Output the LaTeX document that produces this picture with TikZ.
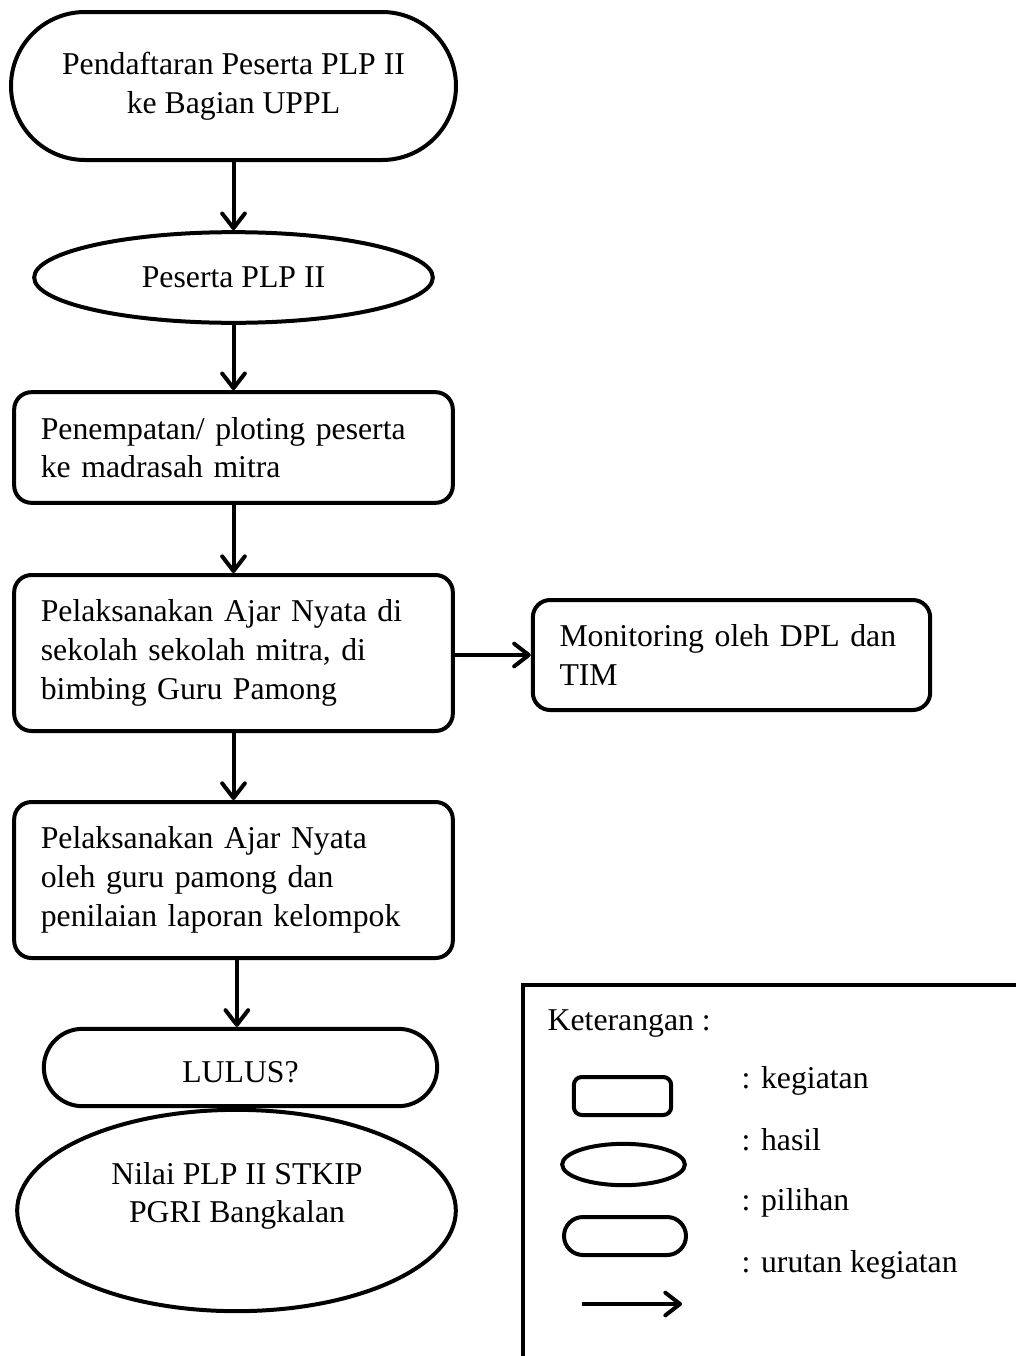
\documentclass[tikz,border=0pt]{standalone}
\usepackage{fontspec}
\setmainfont{Liberation Serif}
\usetikzlibrary{arrows.meta,shapes.geometric,shapes.misc}
\begin{document}
\begin{tikzpicture}[x=0.75pt,y=-0.75pt,
  txt/.style={font=\fontsize{23.8pt}{29pt}\selectfont},
  shp/.style={draw,line width=3pt,inner sep=0pt,txt},
  kbox/.style={shp,rectangle,rounded corners=13pt,inner xsep=20pt,align=left},
  stad/.style={shp,rounded rectangle,align=center},
  ell/.style={shp,ellipse,align=center},
  flow/.style={line width=3pt,-{Straight Barb[length=11pt,width=17pt,line cap=round,line join=round]}},
]
\useasboundingbox (0,0) rectangle (1015,1356);

% main column
\node[stad,minimum width=333.75pt,minimum height=111pt] (start) at (233.5,86)
  {Pendaftaran Peserta PLP II\\ke Bagian UPPL};
\node[ell,minimum width=299pt,minimum height=68pt] (peserta) at (233.5,277.5) {Peserta PLP II};
\node[kbox,minimum width=329pt,minimum height=83pt,text width=289pt] (tempat) at (233.5,447.5)
  {Penempatan/ ploting peserta\\ke madrasah mitra};
\node[kbox,minimum width=329pt,minimum height=117pt,text width=289pt] (laksana) at (233.5,653)
  {Pelaksanakan Ajar Nyata di\\sekolah sekolah mitra, di\\bimbing Guru Pamong};
\node[kbox,minimum width=295pt,minimum height=82.5pt,text width=258pt] (monitor) at (731.5,655)
  {Monitoring oleh DPL dan\\TIM};
\node[kbox,minimum width=329pt,minimum height=117pt,text width=289pt] (nilaiajar) at (233.5,880)
  {Pelaksanakan Ajar Nyata\\oleh guru pamong dan\\penilaian laporan kelompok};
\node[stad,minimum width=295pt,minimum height=58pt] (lulus) at (240.5,1067.5) {};
\node[txt] (lulustext) at (240.5,1072) {LULUS?};
\node[ell,minimum width=329pt,minimum height=151pt] (nilai) at (236.5,1210.5) {};
\node[txt,align=center] (nilaitext) at (237,1196) {Nilai PLP II STKIP\\PGRI Bangkalan};

% connectors
\draw[flow] (start.south) -- (start.south |- peserta.north);
\draw[flow] (peserta.south) -- (peserta.south |- tempat.north);
\draw[flow] (tempat.south) -- (tempat.south |- laksana.north);
\draw[flow] (laksana.south) -- (laksana.south |- nilaiajar.north);
\draw[flow] (laksana.east |- monitor.west) -- (monitor.west);
\draw[flow] ([xshift=2.5pt]nilaiajar.south) -- ([xshift=2.5pt]nilaiajar.south |- lulus.north);

% legend
\draw[line width=3pt,line join=miter] (1040,985) -| (523,1375);
\node[txt,anchor=base west] (ket) at (543,1030) {Keterangan :};
\node[draw,line width=3pt,rounded corners=6pt,minimum width=73pt,minimum height=28.5pt,inner sep=0pt] (lgrect) at (622.5,1096) {};
\node[draw,line width=3pt,ellipse,minimum width=92pt,minimum height=31pt,inner sep=0pt] (lgell) at (623.5,1164.5) {};
\node[draw,line width=3pt,rounded rectangle,minimum width=91.5pt,minimum height=28.5pt,inner sep=0pt] (lgstad) at (625,1236) {};
\coordinate (lga) at (582,1304);
\coordinate (lgb) at (682,1304);
\draw[flow] (lga) -- (lgb);
\node[txt,anchor=base west] (t1) at (737,1088) {: kegiatan};
\node[txt,anchor=base west] (t2) at (737,1150) {: hasil};
\node[txt,anchor=base west] (t3) at (737,1210) {: pilihan};
\node[txt,anchor=base west] (t4) at (737,1272) {: urutan kegiatan};
\end{tikzpicture}
\end{document}
